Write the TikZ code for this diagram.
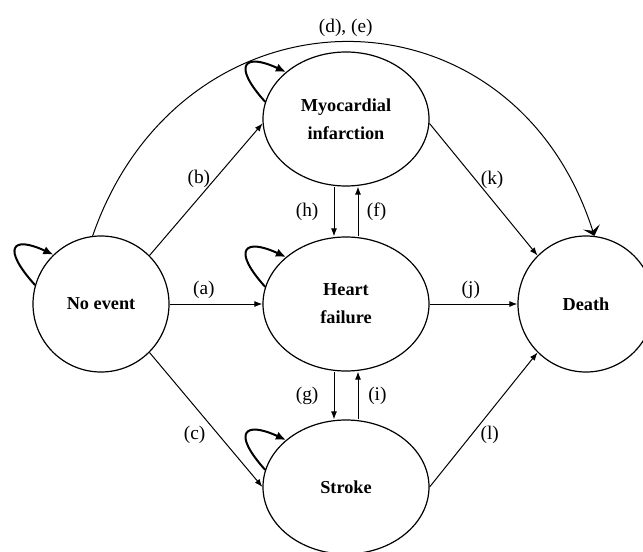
\documentclass[tikz,border=0pt]{standalone}
\usepackage{fontspec}
\setmainfont{Liberation Serif}
\usetikzlibrary{arrows.meta,shapes.geometric,positioning}

\begin{document}
\begin{tikzpicture}[x=0.75pt,y=0.75pt,
  statebase/.style={draw, ellipse, line width=0.9pt, align=center, inner sep=0pt,
    font=\fontsize{13.7}{21}\selectfont\bfseries},
  circstate/.style={statebase, minimum width=102pt, minimum height=102pt},
  ovalstate/.style={statebase, minimum width=124.5pt, minimum height=100.5pt},
  arrow/.style={-{Latex[length=6pt,width=4.5pt]}, line width=0.75pt},
  selfloop/.style={-{Latex[length=7.5pt,width=6.5pt]}, line width=1.5pt},
  lab/.style={font=\fontsize{14.5}{17}\selectfont}
]
\useasboundingbox (0,0) rectangle (643,551);
\node[circstate] (none) at (101,247) {No event};
\node[ovalstate] (mi) at (346,432) {Myocardial\\infarction};
\node[ovalstate] (hf) at (346,247) {Heart\\failure};
\node[ovalstate] (stroke) at (346,64) {Stroke};
\node[circstate] (death) at (586,247) {Death};
\draw[arrow] (none) -- node[lab,pos=0.37,above]{(a)} (hf);
\draw[arrow] (hf) -- node[lab,pos=0.47,above]{(j)} (death);
\draw[arrow] (none.45) -- node[lab,pos=0.58,left]{(b)} (mi.183);
\draw[arrow] (none.-45) -- node[lab,pos=0.61,left=6pt]{(c)} (stroke.west);
\draw[arrow] (mi.-3) -- node[lab,pos=0.43,right]{(k)} (death.135);
\draw[arrow] (stroke.east) -- node[lab,pos=0.39,right=3pt]{(l)} (death.-135);
\draw[arrow] ([xshift=-9pt]mi.south) -- node[lab,left=8pt]{(h)} ([xshift=-9pt]hf.north);
\draw[arrow] ([xshift=9pt]hf.north) -- node[lab,right=3pt]{(f)} ([xshift=9pt]mi.south);
\draw[arrow] ([xshift=-9pt]hf.south) -- node[lab,left=8pt]{(g)} ([xshift=-9pt]stroke.north);
\draw[arrow] ([xshift=9pt]stroke.north) -- node[lab,right=4pt]{(i)} ([xshift=9pt]hf.south);
\draw[line width=0.75pt, -{Stealth[length=7pt,width=13pt,inset=3pt]}]
  (none.97) .. controls +(89,257) and +(-83,260) .. node[lab,above]{(d), (e)} (death.83);
\draw[selfloop] (none.164) .. controls +(132:50) and +(155:46) .. (none.134);
\draw[selfloop] (mi.168) .. controls +(132:50) and +(155:46) .. (mi.142);
\draw[selfloop] (hf.168) .. controls +(132:50) and +(155:46) .. (hf.142);
\draw[selfloop] (stroke.168) .. controls +(132:50) and +(155:46) .. (stroke.142);
\end{tikzpicture}
\end{document}
